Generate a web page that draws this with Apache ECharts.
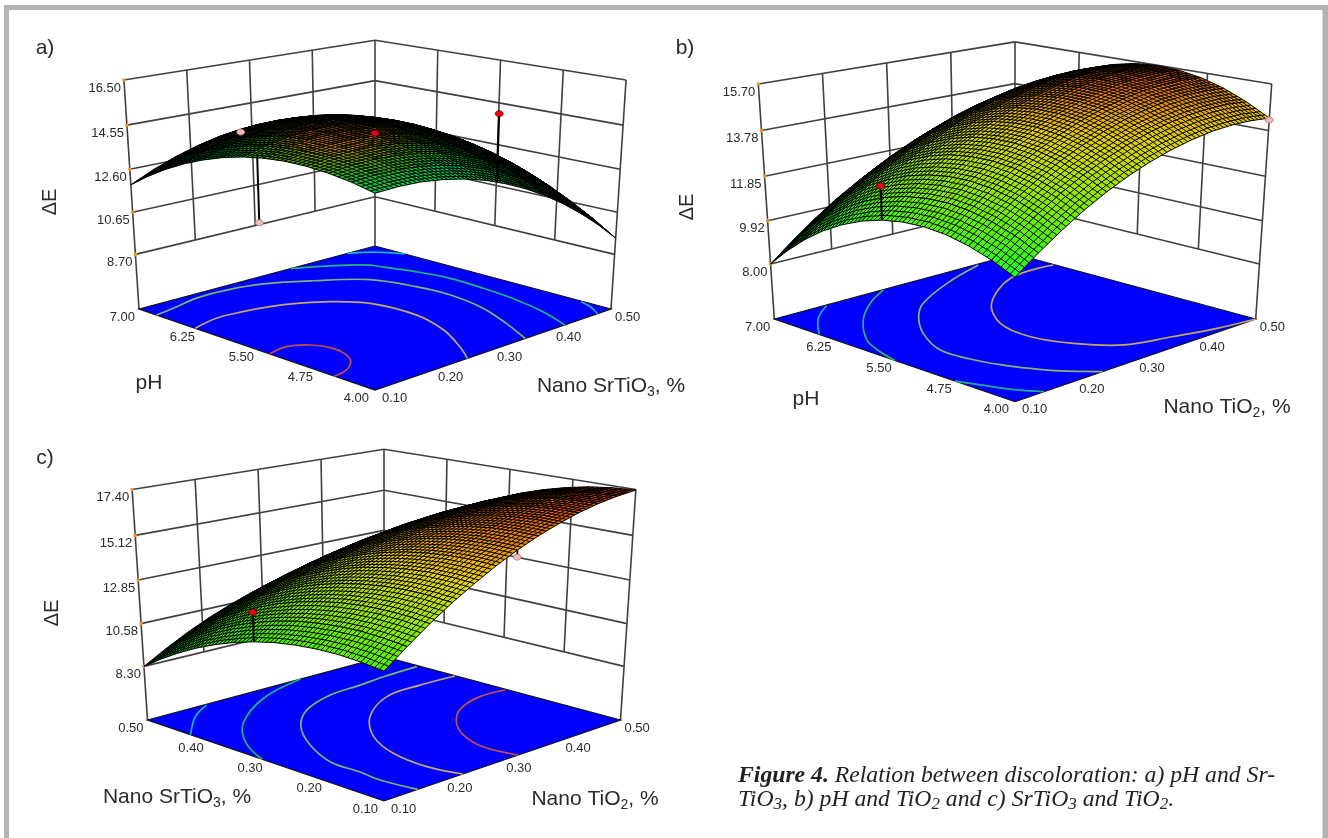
<!DOCTYPE html>
<html><head><meta charset="utf-8">
<style>html,body{margin:0;padding:0;background:#fff}#c{width:1328px;height:838px}</style>
<script src="https://cdn.jsdelivr.net/npm/echarts@6/dist/echarts.min.js"></script>
</head><body><div id="c"></div>
<script>
// ---------- values ----------
const panelLabels = ['a)', 'b)', 'c)'];
const zTicksA = [8.70, 10.65, 12.60, 14.55, 16.50];
const zTicksB = [8.00, 9.92, 11.85, 13.78, 15.70];
const zTicksC = [8.30, 10.58, 12.85, 15.12, 17.40];
const leftTicksA = ['7.00', '6.25', '5.50', '4.75', '4.00'];
const leftTicksB = ['7.00', '6.25', '5.50', '4.75', '4.00'];
const leftTicksC = ['0.50', '0.40', '0.30', '0.20', '0.10'];
const rightTicks = ['0.10', '0.20', '0.30', '0.40', '0.50'];

// Surface heights (delta E): rows run along the left floor axis from its low end,
// columns along the right floor axis from its low end.
const surfaceA = [
[14.16,14.20,14.17,14.05,13.86,13.59,13.23,12.80,12.29,11.70,11.03,10.29,9.46],
[14.37,14.44,14.45,14.36,14.21,13.97,13.65,13.25,12.78,12.22,11.59,10.88,10.09],
[14.51,14.62,14.66,14.61,14.49,14.29,14.00,13.64,13.20,12.67,12.07,11.40,10.64],
[14.58,14.72,14.80,14.78,14.70,14.53,14.28,13.95,13.54,13.06,12.49,11.86,11.13],
[14.58,14.76,14.87,14.89,14.84,14.70,14.48,14.19,13.82,13.37,12.84,12.24,11.55],
[14.50,14.71,14.86,14.91,14.89,14.80,14.61,14.36,14.02,13.60,13.11,12.54,11.88],
[14.35,14.60,14.78,14.87,14.88,14.82,14.67,14.45,14.15,13.76,13.30,12.77,12.15],
[14.12,14.40,14.62,14.74,14.79,14.77,14.65,14.46,14.19,13.85,13.42,12.92,12.34],
[13.82,14.14,14.39,14.54,14.63,14.64,14.56,14.40,14.17,13.86,13.47,13.01,12.45],
[13.45,13.80,14.09,14.28,14.40,14.44,14.40,14.28,14.08,13.80,13.45,13.02,12.50],
[13.01,13.40,13.71,13.94,14.10,14.18,14.16,14.08,13.92,13.68,13.35,12.96,12.48],
[12.49,12.91,13.26,13.53,13.72,13.83,13.85,13.80,13.68,13.47,13.18,12.82,12.37],
[11.90,12.36,12.74,13.04,13.27,13.41,13.47,13.46,13.36,13.19,12.94,12.61,12.20]];
const surfaceB = [
[10.50,11.20,11.83,12.40,12.89,13.31,13.66,13.94,14.15,14.30,14.37,14.37,14.30],
[10.92,11.63,12.26,12.84,13.34,13.76,14.12,14.41,14.63,14.78,14.86,14.87,14.80],
[11.23,11.94,12.59,13.17,13.68,14.11,14.47,14.77,14.99,15.16,15.24,15.25,15.20],
[11.43,12.15,12.80,13.39,13.90,14.34,14.72,15.02,15.25,15.42,15.51,15.53,15.48],
[11.51,12.24,12.90,13.49,14.01,14.46,14.84,15.14,15.38,15.56,15.66,15.69,15.64],
[11.47,12.20,12.87,13.47,14.00,14.45,14.84,15.15,15.40,15.58,15.69,15.72,15.69],
[11.32,12.06,12.73,13.35,13.88,14.34,14.73,15.05,15.30,15.50,15.61,15.65,15.62],
[11.05,11.80,12.48,13.10,13.63,14.10,14.50,14.83,15.09,15.29,15.41,15.45,15.43],
[10.67,11.43,12.11,12.74,13.28,13.76,14.16,14.50,14.76,14.97,15.10,15.15,15.14],
[10.18,10.94,11.64,12.27,12.82,13.30,13.72,14.06,14.33,14.54,14.68,14.74,14.73],
[9.57,10.34,11.04,11.68,12.24,12.73,13.15,13.50,13.78,13.99,14.13,14.20,14.20],
[8.84,9.62,10.32,10.97,11.54,12.03,12.46,12.81,13.10,13.33,13.47,13.55,13.56],
[8.00,8.78,9.50,10.15,10.72,11.23,11.66,12.02,12.32,12.55,12.70,12.79,12.80]];
const surfaceC = [
[11.61,12.46,13.25,13.97,14.61,15.20,15.71,16.16,16.53,16.85,17.09,17.26,17.37],
[11.74,12.57,13.35,14.05,14.67,15.25,15.74,16.17,16.53,16.83,17.05,17.21,17.30],
[11.80,12.62,13.37,14.06,14.67,15.22,15.70,16.12,16.45,16.74,16.95,17.08,17.16],
[11.78,12.58,13.32,13.99,14.58,15.12,15.58,15.98,16.30,16.57,16.76,16.88,16.94],
[11.69,12.47,13.20,13.85,14.42,14.95,15.39,15.77,16.08,16.33,16.50,16.61,16.65],
[11.53,12.30,13.00,13.64,14.20,14.70,15.13,15.50,15.78,16.02,16.18,16.26,16.29],
[11.29,12.04,12.73,13.35,13.89,14.38,14.79,15.14,15.41,15.63,15.77,15.84,15.85],
[10.98,11.71,12.39,12.99,13.51,13.99,14.38,14.71,14.97,15.17,15.29,15.35,15.34],
[10.59,11.31,11.96,12.55,13.06,13.51,13.89,14.21,14.44,14.63,14.74,14.77,14.75],
[10.13,10.83,11.47,12.04,12.53,12.97,13.33,13.63,13.85,14.02,14.11,14.13,14.09],
[9.59,10.27,10.90,11.45,11.92,12.35,12.69,12.97,13.18,13.33,13.40,13.41,13.35],
[8.98,9.65,10.25,10.79,11.25,11.65,11.98,12.25,12.43,12.57,12.63,12.61,12.54],
[8.30,8.95,9.54,10.06,10.50,10.89,11.20,11.45,11.62,11.74,11.78,11.75,11.66]];

// Floor contour lines: [left-axis value, right-axis value]
const contoursA = [
 [[7.0,.448],[6.84,.478],[6.58,.50]],
 [[4.33,.498],[4.18,.49],[4.0,.474]],
 [[7.0,.346],[6.89,.372],[6.70,.409],[6.54,.43],[6.40,.435],[6.06,.45],[5.68,.459],[5.24,.456],[4.78,.448],[4.38,.434],[4.0,.413]],
 [[6.75,.10],[6.80,.131],[6.89,.177],[6.89,.225],[6.80,.275],[6.54,.329],[6.19,.383],[5.72,.402],[5.31,.406],[4.83,.394],[4.39,.369],[4.0,.342]],
 [[6.21,.10],[6.30,.142],[6.28,.181],[6.22,.217],[6.12,.249],[5.95,.282],[5.65,.312],[5.11,.318],[4.65,.299],[4.25,.268],[4.0,.244]],
 [[5.24,.10],[5.28,.13],[5.17,.153],[4.97,.163],[4.77,.158],[4.62,.145],[4.50,.123],[4.46,.10]]];
const contourColorsA = ['#1bb3c4','#1bb3c4','#22b573','#7db56a','#c0a868','#c0504d'];
const contoursB = [
 [[6.98,.177],[6.74,.138],[6.38,.10]],
 [[4.68,.10],[4.31,.119],[4.18,.127],[4.0,.143]],
 [[6.99,.269],[6.76,.221],[6.42,.171],[5.97,.125],[5.65,.108],[5.4,.10]],
 [[6.97,.429],[6.73,.344],[6.42,.266],[6.15,.226],[5.77,.187],[5.34,.16],[4.99,.162],[4.71,.172],[4.47,.186],[4.255,.203],[4.0,.234]],
 [[6.46,.498],[6.43,.416],[5.98,.324],[5.5,.276],[5.06,.265],[4.67,.282],[4.34,.318],[4.19,.381],[4.07,.44],[4.0,.50]]];
const contourColorsB = ['#1bb3c4','#1fae8c','#2fb56e','#8fb06a','#c2a85a'];
const contoursC = [
 [[.497,.189],[.47,.149],[.419,.10]],
 [[.5,.348],[.469,.257],[.409,.172],[.349,.125],[.293,.10]],
 [[.435,.496],[.432,.431],[.426,.383],[.421,.326],[.395,.262],[.351,.212],[.293,.173],[.233,.148],[.184,.147],[.15,.144],[.10,.151]],
 [[.369,.499],[.372,.437],[.366,.371],[.321,.297],[.263,.246],[.204,.219],[.145,.212],[.10,.222]],
 [[.281,.497],[.284,.453],[.267,.40],[.234,.356],[.193,.324],[.148,.308],[.10,.314]]];
const contourColorsC = ['#1bb3c4','#22b573','#7db56a','#c0a868','#c0504d'];

// Design points: [left-axis value, right-axis value, measured delta E, surface delta E or null, 1 = above surface]
const designA = [[4.0,.284,16.2,13.41,1],[5.5,.30,14.2,null,1],[6.475,.21,14.02,null,0],[5.32,.10,11.76,14.46,0]];
const designB = [[5.5,.10,12.71,11.32,1],[4.0,.50,14.22,null,0]];
const designC = [[.30,.10,12.74,11.29,1],[.10,.30,15.38,15.71,0]];

// Height-to-colour stops per panel
const colorStopsA = [[9,[0,150,50]],[12,[0,170,50]],[14.2,[0,205,85]],[14.6,[60,170,0]],[14.85,[205,130,0]],[15,[235,100,0]]];
const colorStopsB = [[8,[0,170,70]],[10.5,[30,250,40]],[12,[100,240,0]],[13.5,[190,225,0]],[14.5,[235,200,0]],[15.2,[225,135,0]],[15.7,[225,90,0]]];
const colorStopsC = [[8.3,[0,170,70]],[11.5,[60,240,0]],[13.5,[170,230,0]],[14.6,[235,215,0]],[15.7,[240,150,0]],[17.4,[225,60,0]]];

// ---------- panels: camera of each 3-D box ----------
const FONT = '"Liberation Sans", Arial, sans-serif';
const panels = [
 {label:panelLabels[0], labelPos:[45,48], z:zTicksA, left:leftTicksA, leftRange:[4,7], surface:surfaceA, contours:contoursA, contourColors:contourColorsA, design:designA, stops:colorStopsA,
  cam:{cx:375,f:236,a:-32.25,b:-233.8,c:309,e:.125,g:-.06,low:.25},
  titles:{dE:[50,202], left:['pH',149,383], right:['Nano SrTiO','3',', %',611,386]}},
 {label:panelLabels[1], labelPos:[685,48], z:zTicksB, left:leftTicksB, leftRange:[4,7], surface:surfaceB, contours:contoursB, contourColors:contourColorsB, design:designB, stops:colorStopsB,
  cam:{cx:1015,f:240.7,a:-34.5,b:-240.2,c:319,e:.12,g:-.0623,low:.246},
  titles:{dE:[687,207], left:['pH',806,399], right:['Nano TiO','2',', %',1227,407]}},
 {label:panelLabels[2], labelPos:[45,458], z:zTicksC, left:leftTicksC, leftRange:[.1,.5], surface:surfaceC, contours:contoursC, contourColors:contourColorsC, design:designC, stops:colorStopsC,
  cam:{cx:384,f:236.5,a:17.3,b:-260.4,c:720,e:.1227,g:-.061,low:.244},
  titles:{dE:[52,613], left:['Nano SrTiO','3',', %',177,797], right:['Nano TiO','2',', %',595,799]}}
];
const linearMap = echarts.number.linearMap;

function tOf(P, z){
  const zs = P.z;
  return P.cam.low + (1-P.cam.low) * linearMap(z,[zs[0],zs[zs.length-1]],[0,1]);
}
function project(P, p, q, t){
  const k = P.cam, s = q-p, d = p+q-1, w = 1 + k.e*d + k.g*t;
  return [k.cx + k.f*s/w, (k.a*d + k.b*t + k.c)/w];
}
const lerp = (A,B,f)=>[A[0]+(B[0]-A[0])*f, A[1]+(B[1]-A[1])*f];
function colorOf(P, z){
  const st = P.stops;
  if (z<=st[0][0]) return 'rgb('+st[0][1].join(',')+')';
  for (let i=1;i<st.length;i++){
    if (z<=st[i][0]){
      const f=(z-st[i-1][0])/(st[i][0]-st[i-1][0]);
      const c=st[i-1][1].map((v,n)=>Math.round(v+(st[i][1][n]-v)*f));
      return 'rgb('+c.join(',')+')';
    }
  }
  return 'rgb('+st[st.length-1][1].join(',')+')';
}
const line=(A,B,stroke,lw)=>({type:'line',shape:{x1:A[0],y1:A[1],x2:B[0],y2:B[1]},style:{stroke,lineWidth:lw,fill:null},silent:true});
const txt=(text,x,y,align,size,extra)=>({type:'text',x,y,silent:true,style:Object.assign({text,fill:'#2b2b2b',font:size+'px '+FONT,textAlign:align,textVerticalAlign:'middle'},extra||{})});

function titleEl(spec){
  if (spec.length===3) return txt(spec[0],spec[1],spec[2],'center',21);
  return {type:'text',x:spec[3],y:spec[4],silent:true,style:{
    text:spec[0]+'{s|'+spec[1]+'}'+spec[2],fill:'#2b2b2b',font:'21px '+FONT,textAlign:'center',textVerticalAlign:'middle',
    rich:{s:{fontSize:14,fontFamily:'Liberation Sans',fill:'#2b2b2b',padding:[12,0,0,0]}}}};
}

function boxItem(P){
  const out=[], wall='#404040', zs=P.z, low=P.cam.low;
  const L=t=>project(P,1,0,t), B=t=>project(P,1,1,t), R=t=>project(P,0,1,t), F=t=>project(P,0,0,t);
  // horizontal wall lines at each height tick
  zs.forEach(z=>{const t=tOf(P,z); out.push(line(L(t),B(t),wall,1.6), line(B(t),R(t),wall,1.6));});
  // vertical wall lines, evenly spaced between the corners
  [.25,.5,.75].forEach(f=>{
    out.push(line(lerp(L(low),B(low),f),lerp(L(1),B(1),f),wall,1.6));
    out.push(line(lerp(B(low),R(low),f),lerp(B(1),R(1),f),wall,1.6));
  });
  [L,B,R].forEach(C=>out.push(line(C(0),C(1),wall,1.6)));
  // floor
  out.push({type:'polygon',silent:true,shape:{points:[L(0),B(0),R(0),F(0)]},style:{fill:'#0000ff',stroke:'#111',lineWidth:1.2}});
  // height ticks and labels
  zs.forEach(z=>{const t=tOf(P,z),A=L(t);
    out.push({type:'circle',silent:true,shape:{cx:A[0],cy:A[1],r:1.8},style:{fill:'#f7941d'}});
    out.push(txt(z.toFixed(2),A[0]-3,A[1]+8,'right',13));
  });
  // floor ticks and labels
  P.left.forEach((s,i)=>{const f=i/4,A=lerp(L(0),F(0),f);
    const dx=i===0?-4:(i===4?-6:-3);
    out.push(txt(s,A[0]+dx,A[1]+8,'right',13));});
  rightTicks.forEach((s,i)=>{const f=i/4,A=lerp(F(0),R(0),f);
    out.push(txt(s,A[0]+(i===0?7:4),A[1]+8,'left',13));});
  // titles
  out.push(txt(P.label,P.labelPos[0],P.labelPos[1],'center',21));
  out.push({type:'text',x:P.titles.dE[0],y:P.titles.dE[1],rotation:Math.PI/2,silent:true,style:{text:'ΔE',fill:'#2b2b2b',font:'20px '+FONT,textAlign:'center',textVerticalAlign:'middle'}});
  out.push(titleEl(P.titles.left), titleEl(P.titles.right));
  return {type:'group',children:out};
}

function contourItem(P,idx){
  const lr=P.leftRange, pts=P.contours[idx].map(c=>project(P,linearMap(c[0],lr,[0,1]),linearMap(c[1],[.1,.5],[0,1]),0));
  return {type:'polyline',silent:true,shape:{points:pts,smooth:.35},style:{stroke:P.contourColors[idx],lineWidth:1.7,fill:null}};
}

const MESH=5; // drawn mesh lines per stored facet
function facetItem(P,i,j,api){
  const z00=api.value(2),z10=api.value(3),z11=api.value(4),z01=api.value(5),n=P.surface.length-1;
  const pr=(a,b,z)=>project(P,a/n,b/n,tOf(P,z));
  const A=pr(i,j,z00),B=pr(i+1,j,z10),C=pr(i+1,j+1,z11),D=pr(i,j+1,z01);
  const c=[[A,z00],[B,z10],[C,z11],[D,z01]].sort((u,v)=>u[0][1]-v[0][1]);
  const fill={type:'linear',x:0,y:0,x2:0,y2:1,colorStops:[{offset:0,color:colorOf(P,c[0][1])},{offset:1,color:colorOf(P,c[3][1])}]};
  let d='M'+A[0]+' '+A[1]+'L'+B[0]+' '+B[1]+'L'+C[0]+' '+C[1]+'L'+D[0]+' '+D[1]+'Z';
  for(let k=1;k<MESH;k++){
    const f=k/MESH,u1=lerp(A,B,f),u2=lerp(D,C,f),v1=lerp(A,D,f),v2=lerp(B,C,f);
    d+='M'+u1[0]+' '+u1[1]+'L'+u2[0]+' '+u2[1]+'M'+v1[0]+' '+v1[1]+'L'+v2[0]+' '+v2[1];
  }
  return {type:'group',children:[
    {type:'polygon',silent:true,shape:{points:[A,B,C,D]},style:{fill,stroke:null}},
    {type:'path',silent:true,shape:{pathData:d},style:{fill:null,stroke:'#000',lineWidth:1}}
  ]};
}
function designItem(P,row){
  const p=linearMap(row[0],P.leftRange,[0,1]),q=linearMap(row[1],[.1,.5],[0,1]);
  const A=project(P,p,q,tOf(P,row[2])),out=[];
  if(row[3]!=null) out.push(line(A,project(P,p,q,tOf(P,row[3])),'#000',2));
  out.push({type:'ellipse',silent:true,shape:{cx:A[0],cy:A[1],rx:4,ry:3},style:{fill:row[4]?'#e8000f':'#f2b6bd',stroke:row[4]?'#600':'#a77',lineWidth:.8}});
  return {type:'group',children:out};
}

const series=[];
const customBase={type:'custom',coordinateSystem:'none',silent:true,animation:false,progressive:0,clip:false};
panels.forEach(P=>{
  series.push(Object.assign({},customBase,{name:P.label+' box',data:[[0]],renderItem:()=>boxItem(P)}));
  series.push(Object.assign({},customBase,{name:P.label+' contours',data:P.contours.map((c,i)=>[i]),renderItem:(params,api)=>contourItem(P,api.value(0))}));
  const facets=[],S=P.surface,n=S.length-1;
  for(let sum=2*n-2;sum>=0;sum--) for(let i=n-1;i>=0;i--){const j=sum-i; if(j<0||j>=n) continue;
    facets.push([i,j,S[i][j],S[i+1][j],S[i+1][j+1],S[i][j+1]]);}
  series.push(Object.assign({},customBase,{name:P.label+' surface',data:facets,renderItem:(params,api)=>facetItem(P,api.value(0),api.value(1),api)}));
  series.push(Object.assign({},customBase,{name:P.label+' design points',data:P.design.map(r=>r.map(v=>v==null?'-':v)),renderItem:(params,api)=>designItem(P,P.design[params.dataIndex])}));
});

const CAP='italic 23.7px "Liberation Serif", "Times New Roman", serif';
const capRich={b:{font:'italic bold 23.7px "Liberation Serif"',fill:'#222'},s:{font:'italic 17px "Liberation Serif"',fill:'#222',padding:[9,0,0,0]}};
const frame='#b3b3b6';
const chart=echarts.init(document.getElementById('c'),null,{renderer:'canvas',width:1328,height:838});
chart.setOption({
  animation:false,backgroundColor:'#fff',
  graphic:[
    {type:'rect',silent:true,z:100,shape:{x:4,y:5,width:1324,height:5},style:{fill:frame}},
    {type:'rect',silent:true,z:100,shape:{x:4,y:5,width:5,height:833},style:{fill:frame}},
    {type:'rect',silent:true,z:100,shape:{x:1322.5,y:5,width:5.5,height:833},style:{fill:frame}},
    {type:'text',silent:true,left:738,top:764,style:{text:'{b|Figure 4.} Relation between discoloration: a) pH and Sr-',font:CAP,fill:'#222',rich:capRich}},
    {type:'text',silent:true,left:738,top:788,style:{text:'TiO{s|3}, b) pH and TiO{s|2} and c) SrTiO{s|3} and TiO{s|2}.',font:CAP,fill:'#222',rich:capRich}}
  ],
  series
});
</script></body></html>
